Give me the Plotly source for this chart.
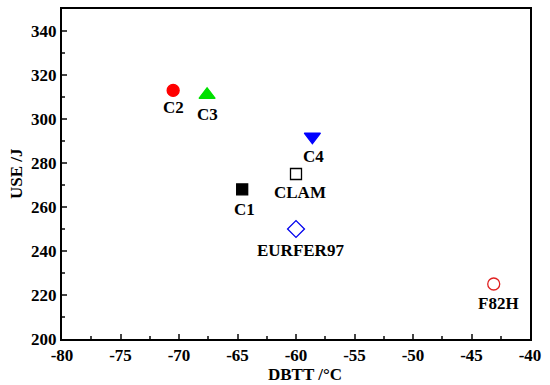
import plotly.graph_objects as go

names = ["C1", "C2", "C3", "C4", "CLAM", "EURFER97", "F82H"]
dbtt = [-64.6, -70.5, -67.6, -58.6, -60.0, -60.0, -43.1]
use = [268, 313, 311, 292, 275, 250, 225]
symbols = ["square", "circle", "triangle-up", "triangle-down", "square-open", "diamond-open", "circle-open"]
colors = ["#000000", "#ff0000", "#00e000", "#0000ff", "#000000", "#0000ee", "#e02020"]
sizes = [11, 12, 14, 14, 11, 13, 12]
label_dx = [2, 0, 0, 1, 4, 4, 5]
label_dy = [-20, -17, -20, -20, -18, -21, -19]

x_ticks = [-80, -75, -70, -65, -60, -55, -50, -45, -40]
y_ticks = [200, 220, 240, 260, 280, 300, 320, 340]
x_title = "DBTT /°C"
y_title = "USE /J"

FAM = "Liberation Serif"

fig = go.Figure()
for i in range(len(names)):
    fig.add_trace(go.Scatter(
        x=[dbtt[i]], y=[use[i]], mode="markers",
        marker=dict(symbol=symbols[i], color=colors[i], size=sizes[i],
                    line=dict(width=1.3, color=colors[i])),
        showlegend=False, hoverinfo="skip"))
    fig.add_annotation(x=dbtt[i], y=use[i], text="<b>%s</b>" % names[i], showarrow=False,
                       xshift=label_dx[i], yshift=label_dy[i],
                       font=dict(family=FAM, size=17, color="black"))

fig.add_annotation(x=0.52, y=0, xref="paper", yref="paper", yshift=-25, xanchor="center",
                   yanchor="top", borderpad=0, text="<b>%s</b>" % x_title, showarrow=False,
                   font=dict(family=FAM, size=17, color="black"))
fig.add_annotation(x=0, y=0.5, xref="paper", yref="paper", xshift=-46, xanchor="center",
                   yanchor="middle", text="<b>%s</b>" % y_title, showarrow=False,
                   textangle=-90, font=dict(family=FAM, size=17, color="black"))

fig.update_layout(
    width=550, height=385,
    margin=dict(l=62, r=20, t=9, b=46),
    plot_bgcolor="white", paper_bgcolor="white",
    font=dict(family=FAM, size=17, color="black"),
    xaxis=dict(range=[-80, -40], tickvals=x_ticks,
               ticktext=["<b>%d</b>" % v for v in x_ticks],
               ticks="inside", ticklen=5, tickwidth=2,
               showline=True, linewidth=2, linecolor="black", mirror=True,
               showgrid=False, zeroline=False, automargin=False,
               minor=dict(dtick=2.5, ticks="inside", ticklen=3, tickwidth=2),
               tickfont=dict(family=FAM, size=17)),
    yaxis=dict(range=[200, 350], tickvals=y_ticks,
               ticktext=["<b>%d</b>" % v for v in y_ticks],
               ticks="inside", ticklen=5, tickwidth=2,
               showline=True, linewidth=2, linecolor="black", mirror=True,
               showgrid=False, zeroline=False, automargin=False,
               minor=dict(dtick=10, ticks="inside", ticklen=3, tickwidth=2),
               tickfont=dict(family=FAM, size=17)),
)

fig.write_html("out.html", config={"displayModeBar": False},
               post_script="document.body.style.margin='0';")
